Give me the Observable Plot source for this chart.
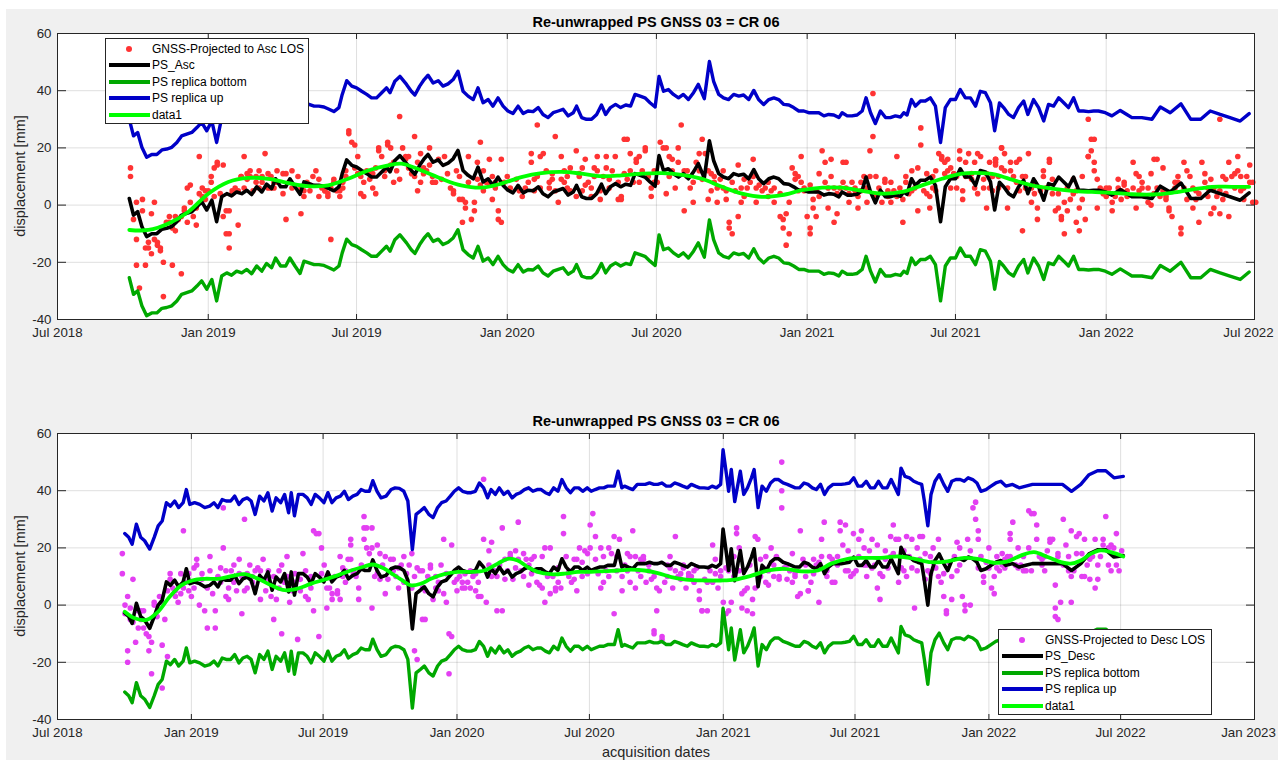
<!DOCTYPE html>
<html><head><meta charset="utf-8">
<script src="https://cdn.jsdelivr.net/npm/d3@7"></script>
<script src="https://cdn.jsdelivr.net/npm/@observablehq/plot@0.6"></script>
<style>
html,body{margin:0;padding:0;background:#fff;width:1278px;height:760px;overflow:hidden;font-family:"Liberation Sans",Arial,Helvetica,sans-serif;}
#fig{position:absolute;left:6px;top:9px;right:0;bottom:0;background:#f0f0f0;}
.title{position:absolute;font-weight:bold;font-size:14.5px;color:#000;transform:translate(-50%,-50%);white-space:nowrap;}
.ylabel{position:absolute;font-size:14.5px;color:#262626;transform:translate(-50%,-50%) rotate(-90deg);white-space:nowrap;}
.xlabel{position:absolute;font-size:14.5px;color:#262626;transform:translate(-50%,-50%);white-space:nowrap;}
.legend{position:absolute;background:#fff;border:1px solid #262626;box-sizing:border-box;font-size:12px;color:#000;}
.legend .txt{position:absolute;white-space:nowrap;transform:translateY(-50%);line-height:14px;}
.legend .ln{position:absolute;height:4px;transform:translateY(-50%);}
.legend .dt{position:absolute;width:6px;height:6px;border-radius:50%;transform:translate(-50%,-50%);}
</style></head>
<body>
<div id="fig"></div>
<script>
// ---------------- data ----------------
const titleText = "Re-unwrapped PS GNSS 03 = CR 06";
const yLabelText = "displacement [mm]";
const xLabelText = "acquisition dates";
const legendAsc = ["GNSS-Projected to Asc LOS", "PS_Asc", "PS replica bottom", "PS replica up", "data1"];
const legendDesc = ["GNSS-Projected to Desc LOS", "PS_Desc", "PS replica bottom", "PS replica up", "data1"];
const yTicks = [-40, -20, 0, 20, 40, 60];
const xTicksTop = ["2018-07-01","2019-01-01","2019-07-01","2020-01-01","2020-07-01","2021-01-01","2021-07-01","2022-01-01","2022-07-01"];
const xTicksBottom = ["2018-07-01","2019-01-01","2019-07-01","2020-01-01","2020-07-01","2021-01-01","2021-07-01","2022-01-01","2022-07-01","2023-01-01"];
// PS replicas are shifted by one phase cycle (half the Sentinel-1 wavelength, mm)
const replicaShift = 27.7;

// [decimal year, displacement mm]
const psAsc = [[2018.736,2.3],[2018.750,-3.5],[2018.764,-2.3],[2018.778,-7.5],[2018.794,-11],[2018.811,-10],[2018.828,-10],[2018.845,-8.4],[2018.861,-8.1],[2018.878,-7.5],[2018.895,-5.8],[2018.911,-3.5],[2018.928,-2.9],[2018.945,-2.3],[2018.962,-0.6],[2018.978,1.2],[2018.995,-1.7],[2019.012,1.7],[2019.028,-5.8],[2019.045,2.9],[2019.062,4],[2019.078,3.2],[2019.095,4.6],[2019.112,4],[2019.129,5.2],[2019.145,3.7],[2019.162,6.4],[2019.179,4.6],[2019.195,7.3],[2019.212,5.8],[2019.225,9.2],[2019.242,6.4],[2019.259,6.4],[2019.273,9.2],[2019.290,6.4],[2019.307,3.8],[2019.320,8.1],[2019.337,7.5],[2019.354,6.9],[2019.370,6.9],[2019.387,6.6],[2019.404,5.8],[2019.420,5],[2019.437,6.4],[2019.448,11],[2019.463,15.8],[2019.480,13.9],[2019.496,13.3],[2019.513,12.1],[2019.530,11],[2019.546,9.8],[2019.563,9.8],[2019.580,11.6],[2019.596,13.3],[2019.608,11.6],[2019.624,15.6],[2019.641,17.3],
[2019.663,14.5],[2019.679,12.1],[2019.691,10.8],[2019.707,13.9],[2019.722,16.2],[2019.735,17.7],[2019.752,15],[2019.769,15.8],[2019.785,13.9],[2019.802,14.7],[2019.819,16.2],[2019.835,19.1],[2019.852,12.1],[2019.869,10.4],[2019.886,9.2],[2019.902,13.3],[2019.919,8.1],[2019.936,9.2],[2019.952,6.9],[2019.969,9.8],[2019.986,6.9],[2020.002,5.2],[2020.019,4.3],[2020.036,6.9],[2020.053,4.3],[2020.069,5.2],[2020.086,5],[2020.103,6.4],[2020.119,4],[2020.136,2.9],[2020.153,4.6],[2020.170,5.2],[2020.186,5.8],[2020.203,3.5],[2020.220,4.6],[2020.231,6.9],[2020.248,2.9],[2020.264,2.3],[2020.281,2.3],[2020.298,4],[2020.314,7.3],[2020.328,4],[2020.344,6.4],[2020.361,7.5],[2020.378,6.4],[2020.395,7.3],[2020.411,6.9],[2020.426,11],[2020.443,10.4],[2020.459,9.8],[2020.476,8.1],[2020.493,6.6],[2020.506,17.3],[2020.521,12.1],[2020.537,12.7],[2020.554,11],[2020.571,9.8],[2020.587,11],[2020.604,9.2],[2020.621,11.6],[2020.637,14.5],
[2020.657,9.5],[2020.674,22.5],[2020.688,15.6],[2020.705,11],[2020.721,9.8],[2020.738,9.2],[2020.755,11],[2020.772,10.4],[2020.788,10.8],[2020.805,9.2],[2020.822,12.4],[2020.838,9.2],[2020.855,7.5],[2020.872,9.2],[2020.889,9.8],[2020.905,9.2],[2020.922,7.5],[2020.939,7.3],[2020.955,6.4],[2020.972,5.2],[2020.989,5.2],[2021.005,4.6],[2021.022,4.6],[2021.039,4.6],[2021.056,3.5],[2021.072,4],[2021.089,3.8],[2021.106,2.9],[2021.117,4.6],[2021.134,3.5],[2021.150,3.5],[2021.167,3.8],[2021.184,5.2],[2021.197,9.8],[2021.212,4.6],[2021.228,0.8],[2021.245,5.2],[2021.262,2.9],[2021.278,2.9],[2021.295,3.5],[2021.312,3.1],[2021.323,4.6],[2021.334,3.8],[2021.349,9.2],[2021.362,6.9],[2021.379,8.7],[2021.395,8.7],[2021.412,9.8],[2021.429,6.9],[2021.446,-5.8],[2021.462,6.4],[2021.479,9.2],[2021.496,9.2],[2021.512,12.7],[2021.529,9.8],[2021.546,9.8],[2021.563,6.9],[2021.579,12.1],[2021.596,11.6],[2021.613,8.1],[2021.627,-1.7],[2021.643,8],
[2021.657,6.4],[2021.674,4],[2021.690,2.9],[2021.707,6.4],[2021.724,8.7],[2021.738,4],[2021.757,9.2],[2021.774,6.4],[2021.791,1.7],[2021.807,7.5],[2021.824,6.9],[2021.841,9.8],[2021.858,8.1],[2021.874,6.4],[2021.891,9.8],[2021.908,5.2],[2021.924,5.2],[2021.941,5],[2021.958,5.2],[2021.974,5.2],[2021.997,4.6],[2022.019,3.5],[2022.047,5.4],[2022.069,4],[2022.086,2.9],[2022.119,2.9],[2022.153,2.3],[2022.181,6.6],[2022.214,4.6],[2022.250,7.7],[2022.283,2.3],[2022.316,2.3],[2022.348,5.2],[2022.381,4],[2022.414,2.9],[2022.448,1.7],[2022.478,4.3]];

const fitAsc = [[2018.736,-8.7],[2018.800,-8.7],[2018.867,-6.4],[2018.934,-2.3],[2019.000,4],[2019.067,8.1],[2019.134,9.5],[2019.201,9.2],[2019.268,7.7],[2019.335,6.6],[2019.401,6.9],[2019.468,9.2],[2019.535,12.1],[2019.602,13.9],[2019.646,14.5],[2019.713,12.1],[2019.780,9.2],[2019.846,6.9],[2019.913,6.1],[2019.980,7.5],[2020.047,9.8],[2020.114,11.2],[2020.181,11.6],[2020.248,11],[2020.314,10.1],[2020.381,10.4],[2020.448,11],[2020.515,11.2],[2020.582,10.6],[2020.649,9.2],[2020.716,6.4],[2020.783,4],[2020.849,2.9],[2020.916,3.5],[2020.983,5.2],[2021.050,6.1],[2021.117,6.1],[2021.184,5],[2021.250,4],[2021.317,4.6],[2021.384,6.9],[2021.451,9.2],[2021.518,11],[2021.584,11.2],[2021.618,10.9],[2021.652,10],[2021.685,8.9],[2021.752,6.9],[2021.818,5.8],[2021.885,5],[2021.952,4.6],[2022.019,4.3],[2022.086,3.8],[2022.153,3.7],[2022.220,4.3],[2022.286,5.4],[2022.353,6.4],[2022.420,6.4],[2022.478,6.4]];

const gnssAsc = [[2018.74,13],[2018.74,10],[2018.75,-5],[2018.76,-12],[2018.76,-21],[2018.77,-29],[2018.76,1],[2018.78,-2],[2018.78,2],[2018.79,-21],[2018.79,-15],[2018.80,-15],[2018.80,-13],[2018.81,-3],[2018.81,-17],[2018.82,-12],[2018.82,1],[2018.83,-13],[2018.83,-14],[2018.84,-16],[2018.84,-15],[2018.85,-20],[2018.85,-32],[2018.86,-6],[2018.87,-4],[2018.87,-6],[2018.88,-8],[2018.88,-21],[2018.89,-4],[2018.89,-9],[2018.90,-5],[2018.91,-24],[2018.91,-4],[2018.92,-2],[2018.92,-1],[2018.93,-6],[2018.93,6],[2018.94,1],[2018.94,7],[2018.95,-4],[2018.96,-1],[2018.96,-7],[2018.97,17],[2018.97,4],[2018.98,6],[2018.98,3],[2018.99,5],[2018.99,2],[2019.00,5],[2019.01,10],[2019.01,8],[2019.02,3],[2019.02,13],[2019.03,15],[2019.03,14],[2019.04,4],[2019.05,14],[2019.05,-4],[2019.06,-2],[2019.06,-10],[2019.07,-15],[2019.07,-10],[2019.07,-2],[2019.08,4],[2019.08,5],[2019.09,6],[2019.10,-7],[2019.10,5],[2019.11,10],[2019.11,10],[2019.12,6],[2019.12,17],[2019.13,11],[2019.13,9],[2019.14,12],[2019.14,10],[2019.15,5],[2019.16,8],[2019.16,10],[2019.17,12],[2019.17,6],[2019.18,10],[2019.18,8],[2019.19,18],[2019.20,6],[2019.20,11],[2019.21,6],[2019.21,10],[2019.22,8],[2019.22,6],[2019.23,12],[2019.23,8],[2019.25,11],[2019.25,4],[2019.26,-5],[2019.26,11],[2019.27,8],[2019.28,6],[2019.28,12],[2019.30,10],[2019.31,6],[2019.31,-3],[2019.32,5],[2019.32,3],[2019.33,8],[2019.34,7],[2019.34,5],[2019.35,10],[2019.36,12],[2019.37,9],[2019.37,3],[2019.38,6],[2019.39,5],[2019.39,5],[2019.40,4],[2019.40,3],[2019.41,-12],[2019.41,6],[2019.42,9],[2019.42,8],[2019.43,5],[2019.44,3],[2019.44,5],[2019.45,8],[2019.45,6],[2019.46,10],[2019.46,12],[2019.47,26],[2019.47,25],[2019.48,22],[2019.49,13],[2019.49,21],[2019.50,17],[2019.50,11],[2019.51,4],[2019.51,10],[2019.52,3],[2019.52,8],[2019.53,12],[2019.54,9],[2019.54,11],[2019.55,6],[2019.55,11],[2019.56,4],[2019.56,13],[2019.57,20],[2019.57,19],[2019.58,17],[2019.59,12],[2019.59,10],[2019.60,22],[2019.60,21],[2019.61,14],[2019.61,20],[2019.62,15],[2019.62,8],[2019.63,12],[2019.64,9],[2019.64,31],
[2019.65,20],[2019.66,17],[2019.66,16],[2019.67,13],[2019.67,17],[2019.68,11],[2019.69,24],[2019.69,10],[2019.70,5],[2019.70,15],[2019.71,18],[2019.71,8],[2019.72,13],[2019.72,11],[2019.73,12],[2019.74,20],[2019.74,14],[2019.75,10],[2019.75,8],[2019.76,8],[2019.77,16],[2019.78,9],[2019.79,17],[2019.80,11],[2019.81,6],[2019.82,4],[2019.82,5],[2019.83,12],[2019.84,10],[2019.84,2],[2019.85,-6],[2019.85,2],[2019.86,1],[2019.86,-1],[2019.87,17],[2019.87,8],[2019.88,-5],[2019.89,-2],[2019.89,1],[2019.90,9],[2019.90,15],[2019.91,22],[2019.91,7],[2019.92,5],[2019.92,12],[2019.93,8],[2019.94,16],[2019.94,7],[2019.95,10],[2019.95,2],[2019.96,6],[2019.96,8],[2019.97,-2],[2019.97,-5],[2019.98,-6],[2019.98,16],[2019.99,8],[2020.00,10],[2020.01,6],[2020.03,9],[2020.04,5],[2020.05,3],[2020.06,6],[2020.07,8],[2020.08,18],[2020.08,15],[2020.09,9],[2020.09,5],[2020.10,28],[2020.10,10],[2020.11,17],[2020.11,6],[2020.12,18],[2020.13,12],[2020.14,8],[2020.14,6],[2020.15,9],[2020.15,11],[2020.16,5],[2020.16,24],[2020.17,1],[2020.18,9],[2020.18,17],[2020.19,12],[2020.19,8],[2020.20,10],[2020.20,6],[2020.21,5],[2020.21,13],[2020.23,3],[2020.23,19],[2020.24,11],[2020.24,10],[2020.25,13],[2020.25,5],[2020.26,7],[2020.26,16],[2020.27,8],[2020.28,6],[2020.28,3],[2020.29,10],[2020.29,13],[2020.30,17],[2020.30,12],[2020.31,2],[2020.31,5],[2020.32,10],[2020.33,17],[2020.33,13],[2020.34,9],[2020.34,6],[2020.35,12],[2020.36,17],[2020.37,8],[2020.37,2],[2020.38,3],[2020.38,2],[2020.39,11],[2020.39,23],[2020.40,23],[2020.40,9],[2020.41,18],[2020.41,12],[2020.42,8],[2020.43,16],[2020.43,15],[2020.44,8],[2020.44,17],[2020.45,12],[2020.46,20],[2020.46,19],[2020.47,10],[2020.48,3],[2020.48,6],[2020.49,8],[2020.49,12],[2020.50,8],[2020.51,22],[2020.52,20],[2020.53,20],[2020.53,4],[2020.54,10],[2020.54,17],[2020.55,12],[2020.55,16],[2020.56,6],[2020.57,20],[2020.57,15],[2020.58,28],[2020.59,12],[2020.59,-2],[2020.60,10],[2020.60,12],[2020.61,6],[2020.62,1],[2020.62,8],[2020.63,15],[2020.64,18],[2020.64,12],
[2020.65,23],[2020.65,9],[2020.66,18],[2020.67,12],[2020.67,2],[2020.68,11],[2020.68,5],[2020.69,10],[2020.69,8],[2020.70,1],[2020.70,6],[2020.71,9],[2020.72,12],[2020.72,6],[2020.73,5],[2020.73,2],[2020.74,-8],[2020.74,-6],[2020.75,-10],[2020.75,8],[2020.76,5],[2020.77,-4],[2020.77,14],[2020.78,1],[2020.78,6],[2020.79,9],[2020.79,3],[2020.80,6],[2020.81,8],[2020.82,16],[2020.82,10],[2020.83,1],[2020.83,6],[2020.84,7],[2020.85,5],[2020.86,6],[2020.87,3],[2020.87,8],[2020.88,5],[2020.89,6],[2020.89,1],[2020.91,4],[2020.91,-4],[2020.92,-5],[2020.92,-8],[2020.93,-14],[2020.93,-3],[2020.94,1],[2020.94,-10],[2020.95,13],[2020.96,11],[2020.96,9],[2020.97,5],[2020.97,10],[2020.98,8],[2020.98,17],[2020.99,5],[2020.99,6],[2021.00,-4],[2021.01,-8],[2021.01,-10],[2021.01,7],[2021.02,2],[2021.02,-1],[2021.03,5],[2021.03,-4],[2021.04,3],[2021.04,11],[2021.05,19],[2021.06,15],[2021.06,8],[2021.07,6],[2021.07,-1],[2021.08,16],[2021.08,10],[2021.09,6],[2021.09,-6],[2021.10,4],[2021.10,-3],[2021.11,6],[2021.12,8],[2021.12,15],[2021.13,15],[2021.13,6],[2021.14,4],[2021.14,1],[2021.15,8],[2021.16,6],[2021.16,5],[2021.17,3],[2021.17,-1],[2021.18,8],[2021.18,5],[2021.19,10],[2021.20,6],[2021.20,1],[2021.21,10],[2021.21,19],[2021.22,24],[2021.22,39],[2021.23,10],[2021.23,3],[2021.24,6],[2021.25,1],[2021.26,9],[2021.26,8],[2021.27,5],[2021.27,3],[2021.28,8],[2021.28,1],[2021.29,5],[2021.30,17],[2021.30,3],[2021.31,6],[2021.32,2],[2021.32,-6],[2021.33,10],[2021.33,8],[2021.34,4],[2021.35,5],[2021.35,12],[2021.36,6],[2021.37,13],[2021.37,-2],[2021.38,21],[2021.38,27],[2021.39,5],[2021.40,11],[2021.40,4],[2021.41,3],[2021.41,-1],[2021.42,6],[2021.42,10],[2021.43,12],[2021.43,5],[2021.44,18],[2021.45,17],[2021.45,16],[2021.46,11],[2021.46,15],[2021.47,12],[2021.47,16],[2021.48,13],[2021.48,6],[2021.49,11],[2021.50,10],[2021.50,6],[2021.51,19],[2021.51,16],[2021.52,2],[2021.52,5],[2021.53,15],[2021.53,10],[2021.54,18],[2021.55,11],[2021.55,9],[2021.56,6],[2021.56,15],[2021.57,4],[2021.57,18],[2021.58,17],[2021.59,9],[2021.59,6],[2021.60,-1],[2021.60,11],[2021.61,15],[2021.61,6],[2021.62,5],[2021.62,10],[2021.63,16],[2021.63,15],[2021.64,6],[2021.65,20],
[2021.63,14],[2021.63,16],[2021.64,10],[2021.65,13],[2021.65,20],[2021.66,12],[2021.66,18],[2021.67,6],[2021.67,-1],[2021.68,15],[2021.68,12],[2021.69,10],[2021.70,8],[2021.70,15],[2021.71,16],[2021.71,5],[2021.72,10],[2021.72,-9],[2021.73,6],[2021.73,10],[2021.74,18],[2021.75,6],[2021.75,1],[2021.76,4],[2021.76,8],[2021.77,-5],[2021.77,-1],[2021.78,5],[2021.79,12],[2021.79,10],[2021.80,6],[2021.80,6],[2021.81,16],[2021.81,15],[2021.82,4],[2021.82,9],[2021.83,-2],[2021.84,-1],[2021.84,4],[2021.85,-5],[2021.85,-4],[2021.86,1],[2021.86,-10],[2021.87,6],[2021.87,-2],[2021.88,2],[2021.89,4],[2021.89,9],[2021.90,5],[2021.90,-6],[2021.91,-1],[2021.91,-9],[2021.92,10],[2021.92,2],[2021.93,-5],[2021.94,17],[2021.94,17],[2021.94,30],[2021.95,19],[2021.95,23],[2021.96,15],[2021.96,23],[2021.96,12],[2021.97,9],[2021.97,-1],[2021.98,6],[2021.99,5],[2021.99,4],[2022.00,3],[2022.00,6],[2022.01,6],[2022.02,-2],[2022.02,1],[2022.03,3],[2022.04,9],[2022.04,6],[2022.05,2],[2022.05,5],[2022.06,8],[2022.06,7],[2022.07,3],[2022.07,5],[2022.09,6],[2022.09,15],[2022.10,-1],[2022.10,11],[2022.11,10],[2022.11,5],[2022.12,6],[2022.12,8],[2022.13,3],[2022.14,1],[2022.14,6],[2022.15,11],[2022.15,0],[2022.16,4],[2022.16,16],[2022.17,6],[2022.17,16],[2022.18,3],[2022.19,13],[2022.19,5],[2022.20,2],[2022.20,3],[2022.21,-1],[2022.21,-2],[2022.22,-4],[2022.23,6],[2022.23,8],[2022.24,8],[2022.24,10],[2022.25,-8],[2022.25,-10],[2022.26,15],[2022.26,6],[2022.27,2],[2022.27,12],[2022.28,10],[2022.29,-1],[2022.29,6],[2022.30,5],[2022.30,2],[2022.31,-6],[2022.31,4],[2022.32,15],[2022.33,11],[2022.33,8],[2022.34,3],[2022.34,6],[2022.35,9],[2022.35,-3],[2022.36,-1],[2022.36,6],[2022.37,3],[2022.38,-3],[2022.38,5],[2022.38,30],[2022.39,10],[2022.39,2],[2022.40,9],[2022.40,4],[2022.41,-4],[2022.41,15],[2022.42,10],[2022.43,6],[2022.43,11],[2022.44,12],[2022.44,17],[2022.45,10],[2022.45,5],[2022.46,6],[2022.46,2],[2022.47,10],[2022.48,14],[2022.48,8],[2022.49,1],[2022.49,8],[2022.50,1]];

const psDesc = [[2018.749,-2.7],[2018.764,-4],[2018.777,-6.4],[2018.793,0.6],[2018.809,-4],[2018.824,-5.2],[2018.843,-8.1],[2018.860,-4],[2018.875,0],[2018.890,1.7],[2018.906,8.1],[2018.921,6.9],[2018.937,8.7],[2018.952,6.4],[2018.969,8.1],[2018.981,12.7],[2018.994,7.5],[2019.012,8.1],[2019.031,7.5],[2019.050,6.4],[2019.069,6.9],[2019.085,8.1],[2019.100,6.4],[2019.116,9.2],[2019.131,8.7],[2019.148,8.7],[2019.163,10.4],[2019.179,7.5],[2019.194,9.2],[2019.210,9.8],[2019.225,8.7],[2019.240,4],[2019.257,10.4],[2019.273,8.7],[2019.288,11.6],[2019.304,5.2],[2019.319,9.8],[2019.336,8.1],[2019.351,11],[2019.366,4.6],[2019.376,11.6],[2019.388,3.5],[2019.403,11],[2019.420,11],[2019.436,9.8],[2019.451,7.5],[2019.466,11],[2019.482,9.8],[2019.499,8.1],[2019.514,11.6],[2019.529,8.1],[2019.545,9.8],[2019.561,10.4],[2019.576,12.1],[2019.591,9.2],[2019.608,10.4],[2019.624,11],[2019.639,12.7],[2019.654,12.1],[2019.670,12.1],[2019.683,15.8],[2019.699,12.1],[2019.714,9.8],[2019.733,10.4],
[2019.752,12.7],[2019.767,13.3],[2019.783,13.1],[2019.800,12.1],[2019.815,8.7],[2019.832,-8.3],[2019.846,4],[2019.862,5.2],[2019.877,6.4],[2019.894,4],[2019.910,2.9],[2019.927,6.4],[2019.942,8.1],[2019.959,8.7],[2019.975,10.4],[2019.990,12.1],[2020.006,13.3],[2020.021,12.1],[2020.038,11.6],[2020.053,11.6],[2020.069,12.1],[2020.084,15],[2020.100,13.3],[2020.115,9.8],[2020.128,12.7],[2020.144,11],[2020.159,13.3],[2020.176,11],[2020.191,12.1],[2020.207,9.8],[2020.222,11],[2020.238,11.6],[2020.253,12.7],[2020.269,13.3],[2020.285,12.1],[2020.301,12.7],[2020.316,12.7],[2020.332,11.6],[2020.347,11],[2020.363,13.3],[2020.379,12.1],[2020.394,16.2],[2020.410,13.3],[2020.426,11.6],[2020.441,13.3],[2020.457,13.3],[2020.472,12.1],[2020.489,13.3],[2020.504,12.1],[2020.519,12.7],[2020.535,13.3],[2020.551,13.3],[2020.566,13.9],[2020.591,13.9],[2020.605,19.1],[2020.619,13.3],[2020.629,13.9],[2020.644,13.3],[2020.660,12.7],[2020.677,14.5],[2020.692,14.5],[2020.707,14.5],[2020.723,15],[2020.739,14.5],[2020.754,14.5],[2020.769,15],[2020.786,13.9],[2020.802,13.9],[2020.817,15],[2020.833,14.5],[2020.848,13.9],[2020.865,13.3],
[2020.880,14.5],[2020.895,13.9],[2020.911,13.3],[2020.928,13.3],[2020.943,13.1],[2020.958,13.9],[2020.974,13.3],[2020.990,14.5],[2020.999,26.6],[2021.012,17.9],[2021.020,12.1],[2021.030,19.7],[2021.043,8.5],[2021.064,19.1],[2021.077,11],[2021.091,13.3],[2021.106,16.8],[2021.116,19.7],[2021.131,6.4],[2021.146,13.9],[2021.162,12.1],[2021.178,15],[2021.193,16.2],[2021.208,16.2],[2021.225,15],[2021.241,14.5],[2021.256,13.9],[2021.271,13.3],[2021.287,13.3],[2021.304,15],[2021.319,14.5],[2021.335,13.3],[2021.350,12.7],[2021.366,14.5],[2021.381,11],[2021.396,13.3],[2021.413,14.5],[2021.429,14.5],[2021.444,14.5],[2021.459,14.7],[2021.475,15],[2021.491,16.8],[2021.507,13.9],[2021.522,13.9],[2021.538,15.6],[2021.554,13.3],[2021.569,13.3],[2021.584,15.6],[2021.600,13.3],[2021.617,13.3],[2021.632,16.2],[2021.647,13.3],[2021.659,11],[2021.669,20.2],[2021.684,17.3],[2021.701,16.8],[2021.717,15.6],[2021.732,15],[2021.747,14.5],[2021.757,8.7],[2021.770,0],[2021.782,11],[2021.797,15.6],[2021.813,17.9],[2021.830,14.5],[2021.845,12.1],[2021.860,15.6],[2021.876,16.2],[2021.892,16.2],[2021.907,15.6],[2021.922,16.8],[2021.939,16.2],[2021.955,15],[2021.970,12.1],[2021.989,12.7],[2022.008,13.9],
[2022.026,15],[2022.045,15.6],[2022.064,13.9],[2022.089,14.5],[2022.114,13.3],[2022.139,13.9],[2022.164,14.5],[2022.202,14.5],[2022.239,14.5],[2022.277,14.5],[2022.311,12.1],[2022.346,14.5],[2022.377,17.9],[2022.409,19.3],[2022.440,19.3],[2022.471,16.8],[2022.506,17.3]];

const fitDesc = [[2018.749,-2.3],[2018.787,-4.6],[2018.831,-5.2],[2018.875,-2.3],[2018.918,2.9],[2018.962,6.9],[2019.006,8.7],[2019.050,9.2],[2019.100,9.2],[2019.150,10.1],[2019.200,10.8],[2019.251,9.2],[2019.301,6.9],[2019.351,5.2],[2019.401,5.8],[2019.451,7.5],[2019.501,8.9],[2019.551,10.4],[2019.601,12.1],[2019.651,13.5],[2019.683,14.2],[2019.727,12.7],[2019.752,11.2],[2019.790,8.9],[2019.827,6.9],[2019.865,7.5],[2019.902,9.2],[2019.952,10.8],[2020.003,11.6],[2020.053,11.6],[2020.103,12.1],[2020.153,14.5],[2020.191,16.2],[2020.228,15.6],[2020.266,13.3],[2020.303,11.6],[2020.353,10.8],[2020.404,11],[2020.454,11.6],[2020.504,11.6],[2020.554,11.9],[2020.604,12.1],[2020.654,12.4],[2020.704,12.1],[2020.754,11.2],[2020.805,9.8],[2020.860,8.9],[2020.930,8.6],[2020.990,8.6],[2021.043,8.9],[2021.106,10.3],[2021.168,12.1],[2021.231,12.7],[2021.294,11.8],[2021.356,12.1],[2021.406,14.5],[2021.469,16.2],[2021.532,16.5],[2021.594,16.5],[2021.657,17],[2021.720,16.2],[2021.782,15],[2021.845,15.3],[2021.907,16.5],[2021.957,16.2],[2022.020,14.8],[2022.070,15.3],[2022.120,17.3],[2022.170,18.5],[2022.221,16.8],[2022.271,15],[2022.308,14.5],[2022.346,15.6],[2022.383,17.9],[2022.421,19.1],[2022.459,18.5],[2022.506,17]];

const gnssDesc = [[2018.74,18],[2018.74,11],[2018.75,-3],[2018.75,0],[2018.76,3],[2018.76,-16],[2018.76,-20],[2018.77,-5],[2018.77,-1],[2018.78,9],[2018.78,-6],[2018.79,-13],[2018.80,-8],[2018.80,-2],[2018.81,-2],[2018.81,-5],[2018.82,-8],[2018.82,-2],[2018.83,-10],[2018.84,-11],[2018.84,-16],[2018.85,-24],[2018.85,-13],[2018.86,1],[2018.86,0],[2018.87,-4],[2018.87,-4],[2018.88,3],[2018.89,-14],[2018.89,-29],[2018.89,1],[2018.90,-5],[2018.91,-18],[2018.91,5],[2018.92,11],[2018.92,9],[2018.93,6],[2018.94,5],[2018.94,3],[2018.95,1],[2018.96,4],[2018.96,11],[2018.97,26],[2018.97,6],[2018.98,8],[2018.99,11],[2018.99,5],[2019.00,3],[2019.01,6],[2019.01,13],[2019.02,14],[2019.02,16],[2019.03,0],[2019.04,9],[2019.04,11],[2019.05,-2],[2019.06,6],[2019.06,-8],[2019.07,17],[2019.07,12],[2019.08,4],[2019.09,-2],[2019.09,-8],[2019.10,10],[2019.11,13],[2019.11,8],[2019.12,34],[2019.12,20],[2019.13,12],[2019.13,3],[2019.14,2],[2019.14,6],[2019.15,12],[2019.16,14],[2019.16,8],[2019.17,5],[2019.18,16],[2019.18,11],[2019.19,10],[2019.19,-3],[2019.20,30],[2019.20,5],[2019.21,6],[2019.21,11],[2019.22,14],[2019.23,10],[2019.23,8],[2019.24,12],[2019.24,6],[2019.25,13],[2019.26,2],[2019.26,12],[2019.27,16],[2019.28,9],[2019.28,5],[2019.29,12],[2019.29,10],[2019.30,3],[2019.31,10],[2019.31,-5],[2019.32,2],[2019.33,6],[2019.33,12],[2019.34,14],[2019.34,-10],[2019.35,8],[2019.36,10],[2019.36,17],[2019.37,1],[2019.38,5],[2019.38,8],[2019.39,8],[2019.39,11],[2019.40,-12],[2019.41,5],[2019.41,9],[2019.42,18],[2019.43,3],[2019.43,12],[2019.44,2],[2019.45,6],[2019.45,10],[2019.46,-2],[2019.46,26],[2019.47,25],[2019.48,-11],[2019.48,25],[2019.49,11],[2019.49,20],[2019.50,14],[2019.51,6],[2019.51,-1],[2019.52,6],[2019.53,4],[2019.53,2],[2019.54,10],[2019.55,4],[2019.55,5],[2019.56,2],[2019.56,17],[2019.57,13],[2019.57,10],[2019.58,8],[2019.58,12],[2019.59,16],[2019.60,23],[2019.60,21],[2019.60,16],[2019.61,11],[2019.61,12],[2019.62,10],[2019.63,6],[2019.63,2],[2019.64,14],[2019.65,31],[2019.65,23],[2019.65,27],[2019.66,20],[2019.66,27],[2019.67,18],[2019.68,-1],[2019.68,20],[2019.68,27],[2019.69,10],[2019.70,11],[2019.70,21],[2019.71,9],[2019.71,18],[2019.72,14],[2019.73,4],[2019.73,17],[2019.74,9],[2019.75,12],
[2019.75,16],[2019.76,12],[2019.76,16],[2019.77,10],[2019.78,13],[2019.78,6],[2019.79,14],[2019.80,8],[2019.80,17],[2019.81,11],[2019.81,8],[2019.82,14],[2019.83,18],[2019.83,6],[2019.84,10],[2019.84,-16],[2019.85,-19],[2019.85,13],[2019.86,12],[2019.87,6],[2019.87,12],[2019.87,-5],[2019.88,-5],[2019.88,5],[2019.89,10],[2019.90,14],[2019.90,13],[2019.91,2],[2019.92,6],[2019.92,10],[2019.93,5],[2019.93,8],[2019.94,14],[2019.95,4],[2019.95,23],[2019.96,11],[2019.96,1],[2019.97,-10],[2019.97,-24],[2019.98,-11],[2019.98,21],[2019.99,8],[2020.00,9],[2020.00,5],[2020.01,10],[2020.02,6],[2020.02,8],[2020.03,6],[2020.03,11],[2020.04,8],[2020.05,12],[2020.05,6],[2020.06,10],[2020.07,5],[2020.07,11],[2020.08,8],[2020.08,3],[2020.09,3],[2020.10,44],[2020.10,23],[2020.11,1],[2020.12,19],[2020.12,14],[2020.13,10],[2020.13,22],[2020.14,12],[2020.15,10],[2020.15,-2],[2020.16,14],[2020.17,27],[2020.17,-2],[2020.18,9],[2020.18,16],[2020.19,12],[2020.20,18],[2020.20,17],[2020.21,9],[2020.22,13],[2020.22,19],[2020.23,16],[2020.23,29],[2020.24,12],[2020.25,10],[2020.25,18],[2020.26,16],[2020.27,7],[2020.27,14],[2020.28,16],[2020.28,11],[2020.29,17],[2020.30,8],[2020.30,12],[2020.31,7],[2020.32,6],[2020.32,17],[2020.33,20],[2020.33,1],[2020.34,10],[2020.35,4],[2020.35,20],[2020.36,10],[2020.37,5],[2020.37,6],[2020.38,8],[2020.38,13],[2020.39,6],[2020.40,25],[2020.40,31],[2020.41,17],[2020.42,10],[2020.42,12],[2020.43,8],[2020.44,16],[2020.44,9],[2020.45,16],[2020.45,5],[2020.46,20],[2020.47,15],[2020.47,10],[2020.48,19],[2020.49,11],[2020.49,18],[2020.50,28],[2020.50,20],[2020.51,32],[2020.52,24],[2020.52,16],[2020.53,11],[2020.54,6],[2020.54,20],[2020.55,17],[2020.55,8],[2020.56,12],[2020.57,20],[2020.57,10],[2020.58,18],[2020.59,24],[2020.59,-3],[2020.60,12],[2020.60,17],[2020.61,23],[2020.62,5],[2020.62,10],[2020.63,14],[2020.64,12],[2020.64,18],[2020.65,17],[2020.65,8],[2020.66,26],[2020.67,17],[2020.67,6],[2020.68,12],[2020.69,16],[2020.69,10],[2020.70,16],[2020.70,17],[2020.71,8],[2020.72,12],[2020.72,14],[2020.73,9],[2020.74,-9],[2020.74,-10],[2020.74,10],[2020.75,6],[2020.75,-2],[2020.76,5],[2020.77,-11],[2020.77,-12],[2020.78,8],[2020.79,14],[2020.79,10],[2020.80,13],[2020.80,17],[2020.81,6],[2020.82,24],[2020.82,12],[2020.83,10],[2020.84,11],[2020.84,9],[2020.85,14],[2020.85,13],[2020.86,6],[2020.87,11],[2020.87,10],
[2020.88,10],[2020.89,12],[2020.89,8],[2020.90,13],[2020.91,5],[2020.91,2],[2020.92,-2],[2020.92,-2],[2020.93,9],[2020.94,8],[2020.94,-2],[2020.95,12],[2020.96,21],[2020.96,8],[2020.97,11],[2020.97,16],[2020.98,6],[2020.99,10],[2020.99,12],[2021.00,1],[2021.00,-6],[2021.01,13],[2021.01,-3],[2021.02,-2],[2021.02,12],[2021.03,1],[2021.04,10],[2021.04,17],[2021.05,27],[2021.05,25],[2021.06,20],[2021.06,12],[2021.07,4],[2021.07,-1],[2021.08,5],[2021.09,6],[2021.09,-2],[2021.10,14],[2021.11,-3],[2021.11,2],[2021.12,24],[2021.12,6],[2021.13,23],[2021.14,16],[2021.14,10],[2021.15,13],[2021.16,17],[2021.16,8],[2021.17,7],[2021.17,12],[2021.18,20],[2021.19,10],[2021.19,14],[2021.20,17],[2021.21,9],[2021.21,10],[2021.22,50],[2021.22,40],[2021.22,34],[2021.23,13],[2021.24,9],[2021.24,14],[2021.25,12],[2021.26,18],[2021.26,8],[2021.27,10],[2021.27,11],[2021.28,3],[2021.29,4],[2021.29,26],[2021.30,16],[2021.31,10],[2021.31,14],[2021.32,5],[2021.32,5],[2021.33,8],[2021.34,11],[2021.34,16],[2021.35,14],[2021.36,1],[2021.36,15],[2021.37,17],[2021.37,23],[2021.38,29],[2021.39,12],[2021.39,10],[2021.40,17],[2021.41,16],[2021.41,8],[2021.42,8],[2021.43,14],[2021.43,17],[2021.44,29],[2021.44,26],[2021.45,21],[2021.46,28],[2021.46,12],[2021.47,12],[2021.47,19],[2021.48,10],[2021.49,11],[2021.49,25],[2021.50,12],[2021.51,23],[2021.51,17],[2021.52,26],[2021.53,14],[2021.53,20],[2021.54,14],[2021.54,10],[2021.55,19],[2021.56,23],[2021.56,13],[2021.57,14],[2021.58,21],[2021.58,6],[2021.59,11],[2021.59,2],[2021.60,10],[2021.61,16],[2021.61,19],[2021.62,13],[2021.63,17],[2021.63,24],[2021.64,18],[2021.64,28],[2021.65,23],[2021.66,8],[2021.66,23],[2021.67,13],[2021.68,19],[2021.68,12],[2021.69,10],[2021.69,24],[2021.70,17],[2021.71,13],[2021.71,23],[2021.72,-1],[2021.73,20],[2021.73,12],[2021.74,24],[2021.74,16],[2021.75,24],[2021.76,9],[2021.76,18],[2021.77,12],[2021.78,17],[2021.78,11],[2021.79,15],[2021.79,20],[2021.80,13],[2021.81,23],[2021.81,10],[2021.82,8],[2021.83,3],[2021.83,11],[2021.84,-2],[2021.84,-3],[2021.85,15],[2021.86,10],[2021.86,2],[2021.87,17],[2021.88,12],[2021.88,22],[2021.89,20],[2021.89,14],[2021.90,3],[2021.91,0],[2021.91,-2],[2021.92,23],[2021.93,0],[2021.93,19],[2021.94,34],[2021.95,30],[2021.95,36],[2021.96,26],[2021.96,13],[2021.96,23],[2021.97,17],[2021.98,8],[2021.98,10],[2021.99,15],[2022.00,20],[2022.00,13],
[2022.01,6],[2022.02,4],[2022.02,10],[2022.03,13],[2022.03,17],[2022.04,12],[2022.05,14],[2022.05,18],[2022.06,13],[2022.06,16],[2022.07,17],[2022.08,23],[2022.08,25],[2022.08,17],[2022.09,29],[2022.10,14],[2022.10,14],[2022.11,20],[2022.11,13],[2022.12,14],[2022.13,12],[2022.13,17],[2022.14,12],[2022.15,33],[2022.15,20],[2022.16,32],[2022.16,12],[2022.17,32],[2022.18,23],[2022.18,28],[2022.19,17],[2022.20,14],[2022.20,16],[2022.21,12],[2022.21,17],[2022.22,19],[2022.23,22],[2022.23,23],[2022.24,23],[2022.25,-1],[2022.25,-4],[2022.25,7],[2022.26,-5],[2022.26,18],[2022.26,17],[2022.27,1],[2022.28,30],[2022.28,14],[2022.29,21],[2022.30,12],[2022.30,17],[2022.31,1],[2022.31,10],[2022.31,26],[2022.32,12],[2022.33,24],[2022.33,18],[2022.34,25],[2022.35,18],[2022.35,10],[2022.36,10],[2022.36,23],[2022.37,14],[2022.38,9],[2022.38,16],[2022.39,17],[2022.40,23],[2022.40,6],[2022.41,9],[2022.41,14],[2022.42,17],[2022.43,21],[2022.43,23],[2022.44,31],[2022.45,20],[2022.45,14],[2022.46,12],[2022.46,21],[2022.47,20],[2022.48,25],[2022.48,14],[2022.49,12],[2022.50,19]];

// ---------------- helpers ----------------
function fromDecimalYear(y) {
  const Y = Math.floor(y);
  const a = Date.UTC(Y, 0, 1), b = Date.UTC(Y + 1, 0, 1);
  return new Date(a + (y - Y) * (b - a));
}
const toRows = arr => arr.map(([t, v]) => ({date: fromDecimalYear(t), v}));
const isoDate = s => new Date(s + "T00:00:00Z");
const fmtTick = d3.utcFormat("%b %Y");
const FONT = "Liberation Sans, Arial, Helvetica, sans-serif";
const colors = {gnssAsc: "#ff3333", gnssDesc: "#e33ff2", ps: "#000000", bottom: "#00a800", up: "#0000c8", fit: "#00ff00"};

function drawPanel({ps, fit, gnss, dotColor, xTicks, top}) {
  const P = toRows(ps), F = toRows(fit), G = toRows(gnss);
  const xt = xTicks.map(isoDate);
  const svg = Plot.plot({
    width: 1278, height: 360,
    marginLeft: 57, marginRight: 24, marginTop: 33, marginBottom: 41,
    style: {background: "transparent", fontFamily: FONT, fontSize: "13.3px", color: "#262626", overflow: "visible"},
    x: {type: "utc", domain: [xt[0], xt[xt.length - 1]], label: null},
    y: {domain: [yTicks[0], yTicks[yTicks.length - 1]], label: null},
    marks: [
      Plot.frame({fill: "white", stroke: null}),
      Plot.gridX(xt, {stroke: "#262626", strokeOpacity: 0.15, strokeWidth: 1}),
      Plot.gridY(yTicks, {stroke: "#262626", strokeOpacity: 0.15, strokeWidth: 1}),
      Plot.dot(G, {x: "date", y: "v", r: 2.8, fill: dotColor, stroke: null}),
      Plot.line(P, {x: "date", y: "v", stroke: colors.ps, strokeWidth: 3.6}),
      Plot.line(P, {x: "date", y: d => d.v - replicaShift, stroke: colors.bottom, strokeWidth: 3.4}),
      Plot.line(P, {x: "date", y: d => d.v + replicaShift, stroke: colors.up, strokeWidth: 3.4}),
      Plot.line(F, {x: "date", y: "v", stroke: colors.fit, strokeWidth: 3.8, curve: "catmull-rom"}),
      Plot.frame({stroke: "#262626", strokeWidth: 1}),
      Plot.axisX(xt.slice(0, -1), {anchor: "bottom", tickSize: 0, tickPadding: 8, tickFormat: fmtTick, label: null, fontSize: 13.3}),
      Plot.axisX(xt.slice(-1), {anchor: "bottom", tickSize: 0, tickPadding: 8, tickFormat: fmtTick, label: null, fontSize: 13.3, dx: -6}),
      Plot.axisX(xt, {anchor: "bottom", tickSize: -5, tickFormat: () => "", label: null}),
      Plot.axisX(xt, {anchor: "top", tickSize: -5, tickFormat: () => "", label: null}),
      Plot.axisY(yTicks, {anchor: "left", tickSize: 0, tickPadding: 6, tickFormat: d => String(d), label: null, fontSize: 13.3}),
      Plot.axisY(yTicks, {anchor: "left", tickSize: -9, tickFormat: () => "", label: null}),
      Plot.axisY(yTicks, {anchor: "right", tickSize: -9, tickFormat: () => "", label: null})
    ]
  });
  svg.style.position = "absolute";
  svg.style.left = "0px";
  svg.style.top = top + "px";
  document.body.appendChild(svg);
}

function addText(cls, text, x, y) {
  const d = document.createElement("div");
  d.className = cls; d.textContent = text;
  d.style.left = x + "px"; d.style.top = y + "px";
  document.body.appendChild(d);
}

function addLegend(labels, dotColor, left, top, width, height) {
  const box = document.createElement("div");
  box.className = "legend";
  Object.assign(box.style, {left: left + "px", top: top + "px", width: width + "px", height: height + "px"});
  const sw = [dotColor, colors.ps, colors.bottom, colors.up, colors.fit];
  labels.forEach((lab, i) => {
    const cy = 9.5 + i * 16.6;
    if (i === 0) {
      const dt = document.createElement("div"); dt.className = "dt";
      Object.assign(dt.style, {left: "23px", top: cy + "px", background: sw[i]});
      box.appendChild(dt);
    } else {
      const ln = document.createElement("div"); ln.className = "ln";
      Object.assign(ln.style, {left: "3px", width: "41px", top: cy + "px", background: sw[i]});
      box.appendChild(ln);
    }
    const t = document.createElement("div"); t.className = "txt"; t.textContent = lab;
    Object.assign(t.style, {left: "46px", top: cy + "px"});
    box.appendChild(t);
  });
  document.body.appendChild(box);
}

drawPanel({ps: psAsc, fit: fitAsc, gnss: gnssAsc, dotColor: colors.gnssAsc, xTicks: xTicksTop, top: 0});
drawPanel({ps: psDesc, fit: fitDesc, gnss: gnssDesc, dotColor: colors.gnssDesc, xTicks: xTicksBottom, top: 400});

addText("title", titleText, 656, 22);
addText("title", titleText, 656, 421);
addText("ylabel", yLabelText, 20, 176);
addText("ylabel", yLabelText, 20, 576);
addText("xlabel", xLabelText, 656, 752);
addLegend(legendAsc, colors.gnssAsc, 105, 38, 204, 86);
addLegend(legendDesc, colors.gnssDesc, 998, 629, 214, 86);
</script>
</body></html>
